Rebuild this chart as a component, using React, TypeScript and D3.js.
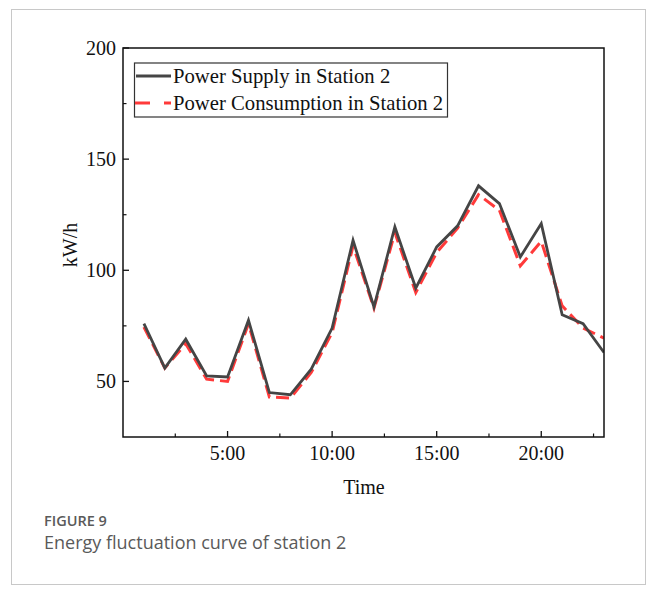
import React from "react";
import * as d3 from "d3";

const hours = [1, 2, 3, 4, 5, 6, 7, 8, 9, 10, 11, 12, 13, 14, 15, 16, 17, 18, 19, 20, 21, 22, 23];
const supply = [76, 56, 69, 52.5, 52, 77.5, 45, 44, 55.5, 74, 113.5, 83.5, 119.5, 92, 110.5, 120, 138, 130, 106, 121, 80, 76, 63];
const consumption = [74.5, 56, 67, 51, 50, 76, 43, 42.5, 54, 72, 111, 83, 117, 90, 108, 119, 134, 127, 102, 113, 84, 74, 69.5];
const xMajorTicks = [5, 10, 15, 20];
const xTickLabels = ["5:00", "10:00", "15:00", "20:00"];
const xMinorTicks = [2.5, 7.5, 12.5, 17.5, 22.5];
const yMajorTicks = [50, 100, 150, 200];
const yMinorTicks = [75, 125, 175];
const seriesNames = ["Power Supply in Station 2", "Power Consumption in Station 2"];

export default function App() {
  const left = 123, right = 604, top = 48, bottom = 437;
  const x = d3.scaleLinear().domain([0, 23]).range([left, right]);
  const y = d3.scaleLinear().domain([25, 200]).range([bottom, top]);
  const line = d3.line<number>().x((_, i) => x(hours[i])).y((d) => y(d));
  const serif = "'Liberation Serif', 'Times New Roman', serif";
  const sans = "'Open Sans', 'Noto Sans', sans-serif";
  return (
    <svg width={656} height={605} style={{ position: "absolute", left: 0, top: 0 }}>
      <rect x={0} y={0} width={656} height={605} fill="#fff" />
      <rect x={11.5} y={9.5} width={634} height={575} fill="none" stroke="#c8c8c8" strokeWidth={1} />
      <defs>
        <clipPath id="plotclip">
          <rect x={left} y={top} width={right - left} height={bottom - top} />
        </clipPath>
      </defs>
      <g clipPath="url(#plotclip)">
        <path d={line(consumption) || ""} fill="none" stroke="#ff3a3a" strokeWidth={3} strokeDasharray="13 6" />
        <path d={line(supply) || ""} fill="none" stroke="#454545" strokeWidth={2.8} strokeLinejoin="miter" />
      </g>
      <rect x={left} y={top} width={right - left} height={bottom - top} fill="none" stroke="#111" strokeWidth={1.5} />
      {xMajorTicks.map((t, i) => (
        <g key={"xm" + t}>
          <line x1={x(t)} x2={x(t)} y1={bottom} y2={bottom - 6} stroke="#111" strokeWidth={1.3} />
          <text x={x(t)} y={460} textAnchor="middle" fontFamily={serif} fontSize={20} fill="#111">{xTickLabels[i]}</text>
        </g>
      ))}
      {xMinorTicks.map((t) => (
        <line key={"xn" + t} x1={x(t)} x2={x(t)} y1={bottom} y2={bottom - 3.5} stroke="#111" strokeWidth={1.2} />
      ))}
      {yMajorTicks.map((t) => (
        <g key={"ym" + t}>
          <line x1={left} x2={left + 6} y1={y(t)} y2={y(t)} stroke="#111" strokeWidth={1.3} />
          <text x={116} y={y(t)} dy="0.35em" textAnchor="end" fontFamily={serif} fontSize={20} fill="#111">{t}</text>
        </g>
      ))}
      {yMinorTicks.map((t) => (
        <line key={"yn" + t} x1={left} x2={left + 3.5} y1={y(t)} y2={y(t)} stroke="#111" strokeWidth={1.2} />
      ))}
      <text transform="translate(77,245) rotate(-90)" textAnchor="middle" fontFamily={serif} fontSize={20} fill="#111">kW/h</text>
      <text x={364} y={494} textAnchor="middle" fontFamily={serif} fontSize={20} fill="#111">Time</text>
      <rect x={134.5} y={63} width={313} height={54} fill="#fff" stroke="#333" strokeWidth={1.2} />
      <line x1={136} x2={171} y1={76} y2={76} stroke="#454545" strokeWidth={3} />
      <line x1={135} x2={171} y1={103} y2={103} stroke="#ff3a3a" strokeWidth={3} strokeDasharray="15 14" />
      <text x={173} y={83} fontFamily={serif} fontSize={20.7} fill="#111">{seriesNames[0]}</text>
      <text x={173} y={110} fontFamily={serif} fontSize={20.7} fill="#111">{seriesNames[1]}</text>
      <text x={44} y={526} fontFamily={sans} fontSize={14.5} fontWeight={600} fill="#5a5a5a">FIGURE 9</text>
      <text x={44} y={549} fontFamily={sans} fontSize={18} fill="#5a5a5a">Energy fluctuation curve of station 2</text>
    </svg>
  );
}
